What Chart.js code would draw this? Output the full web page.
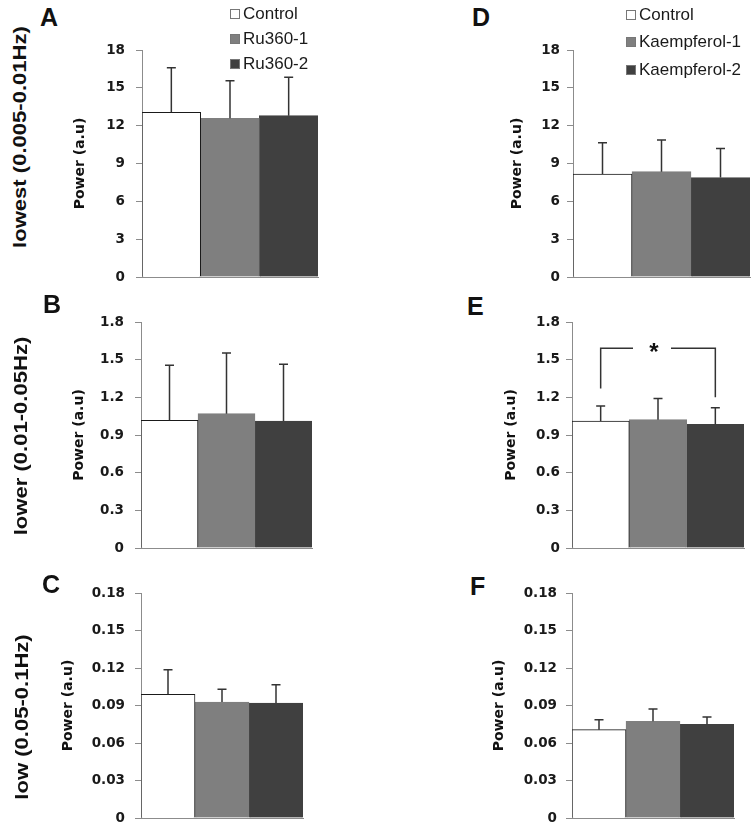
<!DOCTYPE html>
<html>
<head>
<meta charset="utf-8">
<script src="https://cdn.jsdelivr.net/npm/chart.js@4.4.1/dist/chart.umd.min.js"></script>
<style>
  body { margin: 0; background: #fff; }
  #page { position: relative; width: 755px; height: 829px; overflow: hidden; font-family: "Liberation Sans", Arial, sans-serif; }
  canvas { position: absolute; }
  .rowTitle { position: absolute; font-weight: bold; font-size: 21px; color: #111; white-space: nowrap; }
  .letter { position: absolute; font-weight: bold; font-size: 25px; line-height: 25px; color: #111; }
  .legend { position: absolute; font-size: 17px; color: #1a1a1a; }
  .legend .row { display: flex; align-items: center; white-space: nowrap; }
  .legend .box { width: 8px; height: 8px; border: 1px solid #777; margin-right: 3px; }
</style>
</head>
<body>
<div id="page"></div>
<script>
// groups (legend)
const groupsRu = ['Control', 'Ru360-1', 'Ru360-2'];
const groupsKae = ['Control', 'Kaempferol-1', 'Kaempferol-2'];

// mean values
const lowestRu = [13.06, 12.58, 12.79];
const lowerRu = [1.017, 1.07, 1.011];
const lowRu = [0.099, 0.0928, 0.092];
const lowestKae = [8.17, 8.35, 7.88];
const lowerKae = [1.011, 1.022, 0.985];
const lowKae = [0.0707, 0.0774, 0.075];

// error bars (upper only)
const lowestRuSd = [3.54, 2.99, 3.04];
const lowerRuSd = [0.438, 0.483, 0.452];
const lowRuSd = [0.0197, 0.0102, 0.0147];
const lowestKaeSd = [2.48, 2.51, 2.3];
const lowerKaeSd = [0.119, 0.168, 0.133];
const lowKaeSd = [0.008, 0.0098, 0.0058];

// tick labels
const ticksLowest = ['0', '3', '6', '9', '12', '15', '18'];
const ticksLower = ['0', '0.3', '0.6', '0.9', '1.2', '1.5', '1.8'];
const ticksLow = ['0', '0.03', '0.06', '0.09', '0.12', '0.15', '0.18'];

// significance bracket in E: bars compared, and [left foot, top, right foot]
const sigPairE = [0, 2];
const sigLevelsE = [1.27, 1.59, 1.2];

const rowTitles = ['lowest (0.005-0.01Hz)', 'lower (0.01-0.05Hz)', 'low (0.05-0.1Hz)'];
const yTitle = 'Power (a.u)';

const barFills = ['#ffffff', '#7f7f7f', '#404040'];
const barEdges = ['#1a1a1a', '#7f7f7f', '#404040'];
const axisGray = '#8c8c8c';

const page = document.getElementById('page');

// error bars plugin
const errorBars = {
  id: 'errorBars',
  afterDatasetsDraw(chart) {
    const ctx = chart.ctx;
    const y = chart.scales.y;
    ctx.save();
    ctx.strokeStyle = '#333';
    ctx.lineWidth = 1.5;
    chart.data.datasets.forEach((ds, i) => {
      const bar = chart.getDatasetMeta(i).data[0];
      const top = y.getPixelForValue(ds.data[0] + ds.sd);
      ctx.beginPath();
      ctx.moveTo(bar.x, bar.y);
      ctx.lineTo(bar.x, top);
      ctx.moveTo(bar.x - 4.5, top);
      ctx.lineTo(bar.x + 4.5, top);
      ctx.stroke();
    });
    ctx.restore();
  }
};

// significance bracket plugin
const bracket = {
  id: 'bracket',
  afterDatasetsDraw(chart, args, opts) {
    if (!opts || !opts.pair) return;
    const ctx = chart.ctx;
    const y = chart.scales.y;
    const x1 = chart.getDatasetMeta(opts.pair[0]).data[0].x;
    const x2 = chart.getDatasetMeta(opts.pair[1]).data[0].x;
    const yl = y.getPixelForValue(opts.levels[0]);
    const yt = y.getPixelForValue(opts.levels[1]);
    const yr = y.getPixelForValue(opts.levels[2]);
    const mid = (x1 + x2) / 2;
    ctx.save();
    ctx.strokeStyle = '#333';
    ctx.lineWidth = 1.5;
    ctx.beginPath();
    ctx.moveTo(x1, yl); ctx.lineTo(x1, yt); ctx.lineTo(mid - 25, yt);
    ctx.moveTo(mid + 13, yt); ctx.lineTo(x2, yt); ctx.lineTo(x2, yr);
    ctx.stroke();
    ctx.fillStyle = '#111';
    ctx.font = 'bold 24px "Liberation Sans", Arial';
    ctx.textAlign = 'center';
    ctx.textBaseline = 'alphabetic';
    ctx.fillText('*', mid - 4, yt + 12);
    ctx.restore();
  }
};

const panels = [
  { letter: 'A', groups: groupsRu, means: lowestRu, sd: lowestRuSd, ticks: ticksLowest, plot: [142, 50, 318, 277], titleW: 70, tickPad: 11 },
  { letter: 'B', groups: groupsRu, means: lowerRu, sd: lowerRuSd, ticks: ticksLower, plot: [141, 322, 312, 548], titleW: 70, tickPad: 11 },
  { letter: 'C', groups: groupsRu, means: lowRu, sd: lowRuSd, ticks: ticksLow, plot: [141, 593, 303, 818], titleW: 81, tickPad: 10 },
  { letter: 'D', groups: groupsKae, means: lowestKae, sd: lowestKaeSd, ticks: ticksLowest, plot: [573, 50, 750, 277], titleW: 64, tickPad: 7 },
  { letter: 'E', groups: groupsKae, means: lowerKae, sd: lowerKaeSd, ticks: ticksLower, plot: [572, 322, 744, 548], titleW: 69, tickPad: 6, sig: { pair: sigPairE, levels: sigLevelsE } },
  { letter: 'F', groups: groupsKae, means: lowKae, sd: lowKaeSd, ticks: ticksLow, plot: [572, 593, 734, 818], titleW: 81, tickPad: 9 }
];

function makeChart(p) {
  // padding big enough that tick label overhang never pushes the plot area
  const W = p.titleW, padT = 26, padB = 26, padR = 3;
  const [l, t, r, b] = p.plot;
  const cv = document.createElement('canvas');
  cv.width = (r - l) + W + padR;
  cv.height = (b - t) + padT + padB;
  cv.style.left = (l - W) + 'px';
  cv.style.top = (t - padT) + 'px';
  page.appendChild(cv);

  new Chart(cv, {
    type: 'bar',
    data: {
      labels: [''],
      datasets: p.groups.map((g, i) => ({
        label: g,
        data: [p.means[i]],
        sd: p.sd[i],
        backgroundColor: barFills[i],
        borderColor: barEdges[i],
        borderWidth: 1,
        barPercentage: 1,
        categoryPercentage: 1
      }))
    },
    options: {
      responsive: false,
      animation: false,
      layout: { padding: { left: 0, right: padR, top: padT, bottom: padB } },
      plugins: {
        legend: { display: false },
        tooltip: { enabled: false },
        bracket: p.sig || {}
      },
      scales: {
        x: {
          grid: { display: false, drawTicks: false },
          ticks: { display: false },
          border: { color: axisGray }
        },
        y: {
          min: 0,
          max: Number(p.ticks[p.ticks.length - 1]),
          afterBuildTicks: s => { s.ticks = p.ticks.map(v => ({ value: Number(v) })); },
          afterFit: s => { s.width = W; },
          ticks: {
            callback: (v, i) => p.ticks[i],
            padding: p.tickPad,
            color: '#1a1a1a',
            font: { family: 'DejaVu Sans', weight: 'bold', size: 13.5 }
          },
          grid: { drawOnChartArea: false, tickLength: 6, color: axisGray },
          border: { color: axisGray },
          title: {
            display: true,
            text: yTitle,
            color: '#111',
            padding: 0,
            font: { family: 'DejaVu Sans', weight: 'bold', size: 14 }
          }
        }
      }
    },
    plugins: [errorBars, bracket]
  });
}

panels.forEach(makeChart);

// panel letters
const letterPos = { A: [40, 5], B: [43, 292], C: [42, 572], D: [472, 5], E: [467, 294], F: [470, 574] };
panels.forEach(p => {
  const d = document.createElement('div');
  d.className = 'letter';
  d.textContent = p.letter;
  d.style.left = letterPos[p.letter][0] + 'px';
  d.style.top = letterPos[p.letter][1] + 'px';
  page.appendChild(d);
});

// row titles (rotated)
const rowCenters = [[20, 137], [21, 436], [21.5, 717]];
rowTitles.forEach((txt, i) => {
  const d = document.createElement('div');
  d.className = 'rowTitle';
  d.textContent = txt;
  d.style.left = rowCenters[i][0] + 'px';
  d.style.top = rowCenters[i][1] + 'px';
  d.style.transform = 'translate(-50%, -50%) rotate(-90deg) scale(1.05, 0.85)';
  page.appendChild(d);
});

// legends
function addLegend(groups, left, top, rowH) {
  const lg = document.createElement('div');
  lg.className = 'legend';
  lg.style.left = left + 'px';
  lg.style.top = top + 'px';
  groups.forEach((g, i) => {
    const row = document.createElement('div');
    row.className = 'row';
    row.style.height = rowH + 'px';
    const box = document.createElement('span');
    box.className = 'box';
    box.style.background = barFills[i];
    row.appendChild(box);
    row.appendChild(document.createTextNode(g));
    lg.appendChild(row);
  });
  page.appendChild(lg);
}
addLegend(groupsRu, 230, 1, 25);
addLegend(groupsKae, 626, 1, 27.5);
</script>
</body>
</html>
